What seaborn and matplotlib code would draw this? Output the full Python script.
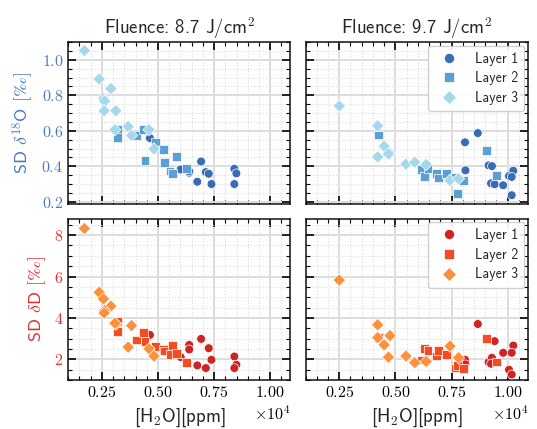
import numpy as np
import pandas as pd
import matplotlib
matplotlib.use("Agg")
import matplotlib.pyplot as plt
import seaborn as sns
from matplotlib.ticker import MultipleLocator

# water concentration [ppm] and SD values per fluence / layer
h2o_87_l1 = [4640, 6010, 6390, 6390, 6920, 6750, 7130, 7260, 7380, 8400, 8490, 8400]
d18o_87_l1 = [0.559, 0.382, 0.364, 0.372, 0.427, 0.313, 0.367, 0.358, 0.300, 0.386, 0.360, 0.300]
dd_87_l1 = [3.18, 2.11, 2.70, 2.48, 2.99, 1.71, 1.58, 2.54, 1.98, 2.14, 1.74, 1.58]

h2o_87_l2 = [3220, 3200, 4040, 4350, 4420, 4900, 5240, 5300, 5530, 5650, 5830, 6270]
d18o_87_l2 = [0.606, 0.563, 0.574, 0.606, 0.433, 0.537, 0.494, 0.420, 0.373, 0.360, 0.453, 0.386]
dd_87_l2 = [3.83, 3.36, 2.94, 3.28, 2.88, 2.61, 2.48, 2.40, 2.24, 2.67, 2.30, 1.84]

h2o_87_l3 = [1720, 2380, 2570, 2900, 2620, 2600, 3120, 3080, 3670, 3820, 4600, 4820]
d18o_87_l3 = [1.052, 0.892, 0.782, 0.838, 0.767, 0.713, 0.713, 0.606, 0.624, 0.574, 0.606, 0.498]
dd_87_l3 = [8.32, 5.24, 4.92, 4.57, 4.36, 4.24, 3.70, 3.75, 2.59, 3.63, 2.51, 2.16]

h2o_97_l1 = [8100, 8120, 8670, 9150, 9300, 9260, 9420, 9800, 10060, 10250, 10180, 10180]
d18o_97_l1 = [0.535, 0.377, 0.587, 0.405, 0.401, 0.304, 0.299, 0.293, 0.345, 0.375, 0.237, 0.340]
dd_97_l1 = [1.98, 1.76, 3.71, 1.87, 2.08, 1.79, 2.88, 2.32, 1.50, 2.67, 1.27, 2.32]

h2o_97_l2 = [4250, 6150, 6300, 6450, 6840, 6930, 7280, 7690, 7780, 8030, 9060, 9490]
d18o_97_l2 = [0.576, 0.382, 0.341, 0.386, 0.360, 0.334, 0.360, 0.336, 0.247, 0.321, 0.488, 0.349]
dd_97_l2 = [3.07, 1.97, 2.51, 2.43, 2.16, 2.43, 2.22, 1.58, 1.72, 1.55, 2.99, 1.87]

h2o_97_l3 = [2500, 4210, 4210, 4500, 4760, 4690, 5470, 5860, 6370, 7430, 7810]
d18o_97_l3 = [0.740, 0.628, 0.453, 0.513, 0.472, 0.470, 0.412, 0.423, 0.410, 0.321, 0.330]
dd_97_l3 = [5.83, 3.67, 3.05, 2.70, 3.15, 2.11, 2.16, 1.84, 1.90, 2.64, 2.08]

layers = ["Layer 1", "Layer 2", "Layer 3"]
fluences = ["8.7", "9.7"]


def make_df(h2o, d18o, dd):
    rows = []
    for name, x, a, b in zip(layers, h2o, d18o, dd):
        rows.append(pd.DataFrame({"h2o": x, "d18o": a, "dd": b, "layer": name}))
    return pd.concat(rows, ignore_index=True)


data = {
    "8.7": make_df([h2o_87_l1, h2o_87_l2, h2o_87_l3],
                   [d18o_87_l1, d18o_87_l2, d18o_87_l3],
                   [dd_87_l1, dd_87_l2, dd_87_l3]),
    "9.7": make_df([h2o_97_l1, h2o_97_l2, h2o_97_l3],
                   [d18o_97_l1, d18o_97_l2, d18o_97_l3],
                   [dd_97_l1, dd_97_l2, dd_97_l3]),
}

blues = {"Layer 1": "#3a6bb7", "Layer 2": "#5b9fd3", "Layer 3": "#a4d8ea"}
reds = {"Layer 1": "#cf2424", "Layer 2": "#f24d22", "Layer 3": "#fd903a"}
markers = {"Layer 1": "o", "Layer 2": "s", "Layer 3": "D"}
blue_lab = "#4a78c2"
red_lab = "#e03131"

sns.set_theme(style="whitegrid")
plt.rcParams["font.family"] = ["cmss10", "DejaVu Sans"]
plt.rcParams["mathtext.fontset"] = "cm"
plt.rcParams["axes.formatter.use_mathtext"] = True
plt.rcParams["axes.unicode_minus"] = False

fig, axes = plt.subplots(2, 2, figsize=(5.37, 4.29), dpi=100, sharex=True, sharey="row")
fig.subplots_adjust(left=0.127, right=0.983, top=0.902, bottom=0.114, wspace=0.068, hspace=0.093)

for j, fl in enumerate(fluences):
    df = data[fl]
    for i, (col, pal) in enumerate([("d18o", blues), ("dd", reds)]):
        ax = axes[i, j]
        sns.scatterplot(data=df, x="h2o", y=col, hue="layer", style="layer",
                        palette=pal, markers=markers, s=40, edgecolor="white",
                        linewidth=0.5, ax=ax, legend=(j == 1), zorder=3)
        ax.set_xlim(1000, 10900)
        ax.xaxis.set_major_locator(MultipleLocator(2500))
        ax.xaxis.set_minor_locator(MultipleLocator(500))
        ax.ticklabel_format(axis="x", style="sci", scilimits=(0, 0), useMathText=True)
        if col == "d18o":
            ax.set_ylim(0.19, 1.1)
            ax.yaxis.set_major_locator(MultipleLocator(0.2))
            ax.yaxis.set_minor_locator(MultipleLocator(0.05))
        else:
            ax.set_ylim(1.0, 8.8)
            ax.yaxis.set_major_locator(MultipleLocator(2))
            ax.yaxis.set_minor_locator(MultipleLocator(0.5))
        ax.grid(which="major", color="#dddddd", linewidth=1.4, linestyle="-")
        ax.grid(which="minor", color="#dddddd", linewidth=0.8, linestyle=":")
        ax.tick_params(which="both", direction="in", top=True, right=True,
                       bottom=True, left=True, colors="black", labelsize=11.5,
                       labelfontfamily="cmr10")
        ax.tick_params(which="major", length=6, width=1.2)
        ax.tick_params(which="minor", length=3, width=0.8)
        for sp in ax.spines.values():
            sp.set_color("#111111")
            sp.set_linewidth(1.1)
        ax.set_xlabel("")
        ax.set_ylabel("")
        if j == 1:
            ax.legend(loc="upper right", fontsize=10, frameon=True, framealpha=0.9,
                      edgecolor="#cccccc", handletextpad=0.9, borderpad=0.45,
                      labelspacing=0.4, borderaxespad=0.25, markerscale=1.15)
        off = ax.xaxis.get_offset_text()
        off.set_fontsize(11.5)
        off.set_fontfamily("cmr10")

axes[0, 0].set_title("Fluence: 8.7 J/cm$^2$", fontsize=13.5)
axes[0, 1].set_title("Fluence: 9.7 J/cm$^2$", fontsize=13.5)
axes[0, 0].set_ylabel(r"SD $\delta^{18}$O $[\mathrm{‰}]$", color=blue_lab, fontsize=13)
axes[1, 0].set_ylabel(r"SD $\delta$D $[\mathrm{‰}]$", color=red_lab, fontsize=13)
axes[0, 0].tick_params(axis="y", labelcolor=blue_lab)
axes[1, 0].tick_params(axis="y", labelcolor=red_lab)
for ax in axes[1]:
    ax.set_xlabel(r"[H$_\mathsf{2}$O][ppm]", fontsize=13.5)

fig.savefig("out.png", dpi=100)
